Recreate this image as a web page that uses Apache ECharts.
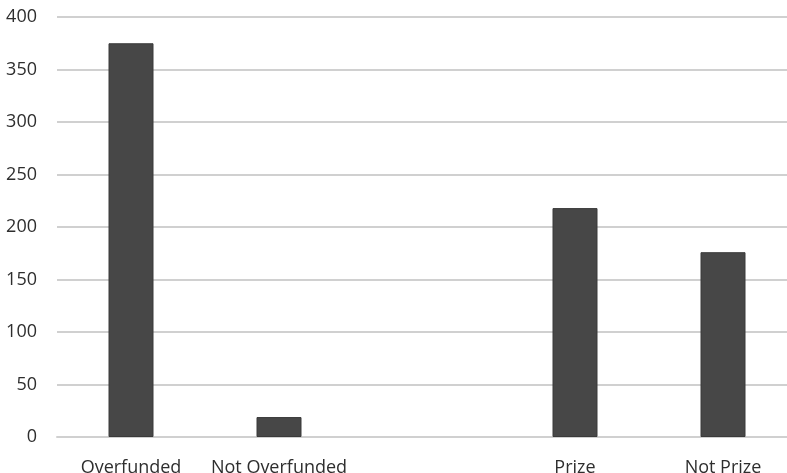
<!DOCTYPE html>
<html>
<head>
<meta charset="utf-8">
<script src="https://cdn.jsdelivr.net/npm/echarts@6/dist/echarts.min.js"></script>
<style>
html,body{margin:0;padding:0;background:#fff;}
#chart{width:787px;height:473px;}
</style>
</head>
<body>
<div id="chart"></div>
<script>
var categories = ['Overfunded', 'Not Overfunded', '', 'Prize', 'Not Prize'];
var values = [375, 19, null, 218, 176];
var yTicks = [0, 50, 100, 150, 200, 250, 300, 350, 400];

var chart = echarts.init(document.getElementById('chart'), null, {renderer: 'canvas'});
chart.setOption({
  animation: false,
  backgroundColor: '#ffffff',
  grid: {left: 57, top: 17, width: 740, height: 420, containLabel: false, outerBoundsMode: 'none'},
  xAxis: {
    type: 'category',
    data: categories,
    axisLine: {show: true, lineStyle: {color: '#d0d0d0', width: 2}},
    axisTick: {show: false},
    axisLabel: {
      interval: 0, margin: 22,
      fontFamily: 'Open Sans', fontSize: 18, color: '#2e2e2e'
    }
  },
  yAxis: {
    type: 'value',
    min: yTicks[0],
    max: yTicks[yTicks.length - 1],
    interval: 50,
    axisLine: {show: false},
    axisTick: {show: false},
    splitLine: {lineStyle: {color: '#d0d0d0', width: 2}},
    axisLabel: {
      margin: 20,
      fontFamily: 'Open Sans', fontSize: 18, color: '#2e2e2e'
    }
  },
  series: [{
    type: 'bar',
    data: values,
    barWidth: 45,
    itemStyle: {color: '#474747', borderColor: '#3a3a3a', borderWidth: 1}
  }]
});
</script>
</body>
</html>
